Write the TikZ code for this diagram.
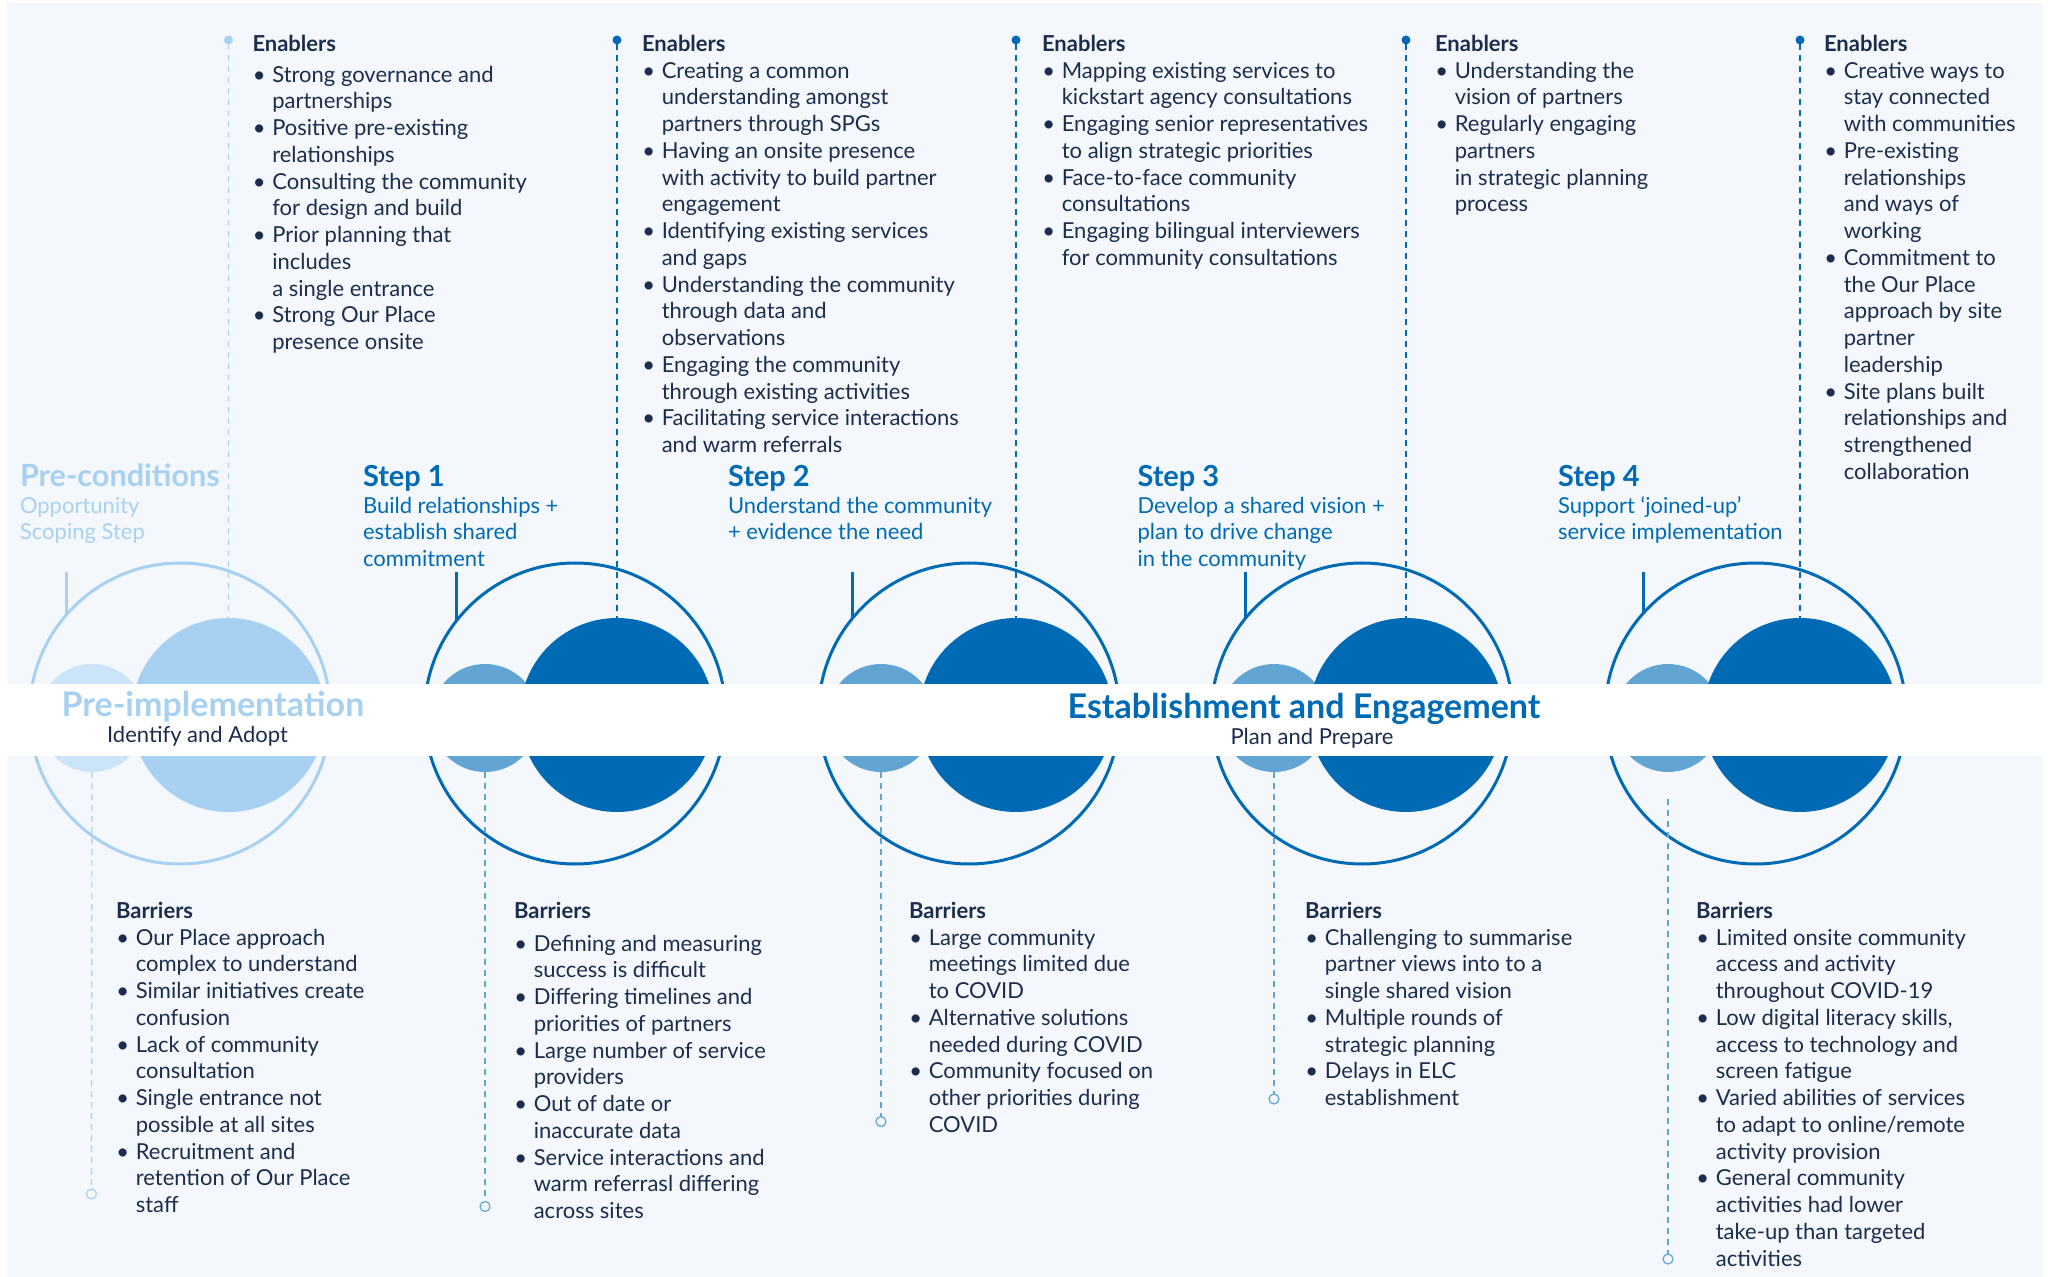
\documentclass[tikz,border=0pt]{standalone}
\usepackage{fontspec}
\setmainfont{Lato}

\definecolor{bg}{HTML}{F4F8FD}
\definecolor{navy}{HTML}{1C2C4C}
\definecolor{darkblue}{HTML}{006BB4}
\definecolor{midblue}{HTML}{62A5D3}
\definecolor{lightblue}{HTML}{A8D1F1}
\definecolor{paleblue}{HTML}{CCE4F7}

% text helpers: a block is a \vtop of single lines, so its baseline is the first line
\newcommand\bodyfont{\fontsize{11}{13.37}\selectfont}
\newcommand\stepfont{\fontsize{14.5}{17}\selectfont\bfseries}
\newcommand\prefont{\fontsize{15.3}{17}\selectfont\bfseries}
\newcommand\phasefont{\fontsize{17}{20}\selectfont\bfseries}
\newcommand\blk[1]{\vtop{\baselineskip=13.37pt\lineskiplimit=-100pt\lineskip=0pt\relax#1}}
\newcommand\hd[1]{\hbox{\bfseries#1}}
\newcommand\bl[1]{\hbox{\hbox to 9.9pt{\hspace{0.2pt}\textbullet\hss}#1}}
\newcommand\cl[1]{\hbox{\hspace{9.9pt}#1}}
\newcommand\lne[1]{\hbox{#1}}
\newcommand\gp[1]{\vskip#1\relax}

\begin{document}
\begin{tikzpicture}[x=0.5pt,y=-0.5pt,
  every node/.style={inner sep=0pt,outer sep=0pt},
  ring/.style={circle,draw=#1,line width=1.5pt,minimum size=150.5pt},
  bigdisc/.style={circle,fill=#1,minimum size=97pt},
  smalldisc/.style={circle,fill=#1,minimum size=54pt},
  topdot/.style={circle,fill=#1,minimum size=4.5pt},
  enddot/.style={circle,draw=#1,fill=bg,line width=0.6pt,minimum size=5pt},
  updash/.style={draw=#1,line width=0.75pt,dash pattern=on 3pt off 2.5pt},
  downdash/.style={draw=#1,line width=0.6pt,dash pattern=on 3pt off 2.5pt},
  stem/.style={draw=#1,line width=1.5pt},
  body/.style={anchor=base west,font=\bodyfont,text=navy},
  steplabel/.style={anchor=base west,font=\bodyfont,text=#1},
  phase/.style={anchor=base,font=\phasefont,text=#1},
  phasesub/.style={anchor=base,font=\bodyfont,text=navy}]

% canvas
\fill[white] (0,0) rectangle (2049,1277);
\useasboundingbox (0,0) rectangle (2049,1277);
\fill[bg] (7,3) rectangle (2043,1277);

% ---- pre-conditions column ----
\node[topdot=lightblue] (d0) at (228.5,40) {};
\node[enddot=lightblue] (e0) at (91.5,1194) {};
\node[ring=lightblue] (o0) at (180,713.5) {};
\node[smalldisc=paleblue] (s0) at (92,718) {};
\node[bigdisc=lightblue] (b0) at (228.5,715) {};
\coordinate (t0) at (65.5,572);
\draw[updash=lightblue] (d0) -- (b0.north);
\draw[downdash=lightblue] (s0.south) -- (e0.north);
\draw[stem=lightblue] (o0.139.5) -- (o0.139.5 |- t0);

% ---- step columns ----
\foreach \k/\ox/\bx/\sx/\tx/\ey/\ang in
  {1/575/617/485/456/1206.5/142.3,
   2/969/1016/881/851/1121.5/141.6,
   3/1362/1406/1274/1245/1099/141.0,
   4/1755.5/1800/1668/1643/1259/138.4}{
  \node[topdot=darkblue] (d\k) at (\bx,40) {};
  \node[enddot=midblue] (e\k) at (\sx,\ey) {};
  \node[ring=darkblue] (o\k) at (\ox,713.5) {};
  \node[smalldisc=midblue] (s\k) at (\sx,718) {};
  \node[bigdisc=darkblue] (b\k) at (\bx,715) {};
  \coordinate (t\k) at (\tx,572);
  \draw[updash=darkblue] (d\k) -- (b\k.north);
  \draw[stem=darkblue] (o\k.\ang) -- (o\k.\ang |- t\k);
}
\coordinate (g4) at (1668,799);
\draw[downdash=midblue] (s1.south) -- (e1.north);
\draw[downdash=midblue] (s2.south) -- (e2.north);
\draw[downdash=midblue] (s3.south) -- (e3.north);
\draw[downdash=midblue] (g4) -- (e4.north);

% ---- phase band ----
\fill[white] (0,684) rectangle (2049,756);
\node[phase=lightblue] (p0) at (213,716.5) {Pre-implementation};
\node[phasesub] (p0s) at (197.5,742.5) {Identify and Adopt};
\node[phase=darkblue] (p1) at (1304,718.5) {Establishment and Engagement};
\node[phasesub] (p1s) at (1312,744.5) {Plan and Prepare};

% ---- step labels ----
\node[steplabel=lightblue] (l0) at (20,486.5) {\blk{\lne{\prefont Pre-conditions}\lne{Opportunity}\lne{Scoping Step}}};
\node[steplabel=darkblue] (l1) at (363,486.5) {\blk{\lne{\stepfont Step 1}\lne{Build relationships +}\lne{establish shared}\lne{commitment}}};
\node[steplabel=darkblue] (l2) at (728,486.5) {\blk{\lne{\stepfont Step 2}\lne{Understand the community}\lne{+ evidence the need}}};
\node[steplabel=darkblue] (l3) at (1137.5,486.5) {\blk{\lne{\stepfont Step 3}\lne{Develop a shared vision +}\lne{plan to drive change}\lne{in the community}}};
\node[steplabel=darkblue] (l4) at (1558,486.5) {\blk{\lne{\stepfont Step 4}\lne{Support ‘joined-up’}\lne{service implementation}}};

% ---- enablers ----
\node[body] (en0) at (252.5,51.5) {\blk{\hd{Enablers}\gp{2pt}
  \bl{Strong governance and}\cl{partnerships}
  \bl{Positive pre-existing}\cl{relationships}
  \bl{Consulting the community}\cl{for design and build}
  \bl{Prior planning that}\cl{includes}\cl{a single entrance}
  \bl{Strong Our Place}\cl{presence onsite}}};
\node[body] (en1) at (642,51.5) {\blk{\hd{Enablers}
  \bl{Creating a common}\cl{understanding amongst}\cl{partners through SPGs}
  \bl{Having an onsite presence}\cl{with activity to build partner}\cl{engagement}
  \bl{Identifying existing services}\cl{and gaps}
  \bl{Understanding the community}\cl{through data and}\cl{observations}
  \bl{Engaging the community}\cl{through existing activities}
  \bl{Facilitating service interactions}\cl{and warm referrals}}};
\node[body] (en2) at (1042,51.5) {\blk{\hd{Enablers}
  \bl{Mapping existing services to}\cl{kickstart agency consultations}
  \bl{Engaging senior representatives}\cl{to align strategic priorities}
  \bl{Face-to-face community}\cl{consultations}
  \bl{Engaging bilingual interviewers}\cl{for community consultations}}};
\node[body] (en3) at (1435,51.5) {\blk{\hd{Enablers}
  \bl{Understanding the}\cl{vision of partners}
  \bl{Regularly engaging}\cl{partners}\cl{in strategic planning}\cl{process}}};
\node[body] (en4) at (1824,51.5) {\blk{\hd{Enablers}
  \bl{Creative ways to}\cl{stay connected}\cl{with communities}
  \bl{Pre-existing}\cl{relationships}\cl{and ways of}\cl{working}
  \bl{Commitment to}\cl{the Our Place}\cl{approach by site}\cl{partner}\cl{leadership}
  \bl{Site plans built}\cl{relationships and}\cl{strengthened}\cl{collaboration}}};

% ---- barriers ----
\node[body] (br0) at (116,918.5) {\blk{\hd{Barriers}
  \bl{Our Place approach}\cl{complex to understand}
  \bl{Similar initiatives create}\cl{confusion}
  \bl{Lack of community}\cl{consultation}
  \bl{Single entrance not}\cl{possible at all sites}
  \bl{Recruitment and}\cl{retention of Our Place}\cl{staff}}};
\node[body] (br1) at (514,918.5) {\blk{\hd{Barriers}\gp{3pt}
  \bl{Defining and measuring}\cl{success is difficult}
  \bl{Differing timelines and}\cl{priorities of partners}
  \bl{Large number of service}\cl{providers}
  \bl{Out of date or}\cl{inaccurate data}
  \bl{Service interactions and}\cl{warm referrasl differing}\cl{across sites}}};
\node[body] (br2) at (909,918.5) {\blk{\hd{Barriers}
  \bl{Large community}\cl{meetings limited due}\cl{to COVID}
  \bl{Alternative solutions}\cl{needed during COVID}
  \bl{Community focused on}\cl{other priorities during}\cl{COVID}}};
\node[body] (br3) at (1305,918.5) {\blk{\hd{Barriers}
  \bl{Challenging to summarise}\cl{partner views into to a}\cl{single shared vision}
  \bl{Multiple rounds of}\cl{strategic planning}
  \bl{Delays in ELC}\cl{establishment}}};
\node[body] (br4) at (1696,918.5) {\blk{\hd{Barriers}
  \bl{Limited onsite community}\cl{access and activity}\cl{throughout COVID-19}
  \bl{Low digital literacy skills,}\cl{access to technology and}\cl{screen fatigue}
  \bl{Varied abilities of services}\cl{to adapt to online/remote}\cl{activity provision}
  \bl{General community}\cl{activities had lower}\cl{take-up than targeted}\cl{activities}}};
\end{tikzpicture}
\end{document}
